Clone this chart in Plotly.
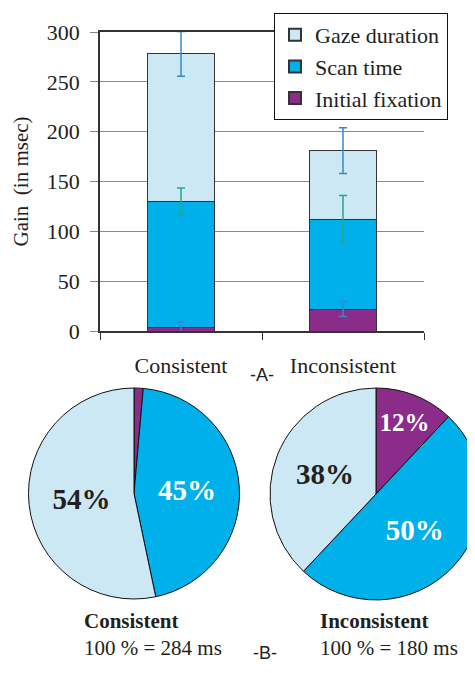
import plotly.graph_objects as go

# stacked bar data (msec)
conditions = ["Consistent", "Inconsistent"]
initial_fix = [4, 22]
scan_time = [126, 90]
gaze_dur = [148, 69]
initial_err = [5, 7.5]
scan_err = [13.5, 24]
gaze_err = [22.5, 23]

# pie data (share of total gain, %)
pie_names = ["Initial fixation", "Scan time", "Gaze duration"]
pie_consistent = [1.4, 45.3, 53.3]
pie_inconsistent = [12, 50, 38]
pie_consistent_text = ["", "45%", "54%"]
pie_inconsistent_text = ["12%", "50%", "38%"]
totals = [284, 180]

C_GAZE = "#cce8f4"
C_SCAN = "#00b0eb"
C_INIT = "#8b2b8a"
ERR_BLUE = "#3b86c8"
ERR_TEAL = "#27a68c"
TXT = "#231f20"
SERIF = "Liberation Serif"
SANS = "Liberation Sans"

W, H = 475, 673
OFF = 8  # page body margin


def px(x):
    return (x - OFF) / W


def py(y):
    return 1 - (y - OFF) / H


fig = go.Figure()

bar_line = dict(color="#333333", width=1)
fig.add_trace(go.Bar(x=conditions, y=initial_fix, name="Initial fixation",
                     marker=dict(color=C_INIT, line=bar_line)))
fig.add_trace(go.Bar(x=conditions, y=scan_time, name="Scan time",
                     marker=dict(color=C_SCAN, line=bar_line)))
fig.add_trace(go.Bar(x=conditions, y=gaze_dur, name="Gaze duration",
                     marker=dict(color=C_GAZE, line=bar_line)))

# error bars drawn on top of the stack, at each segment's top
tops_init = initial_fix
tops_scan = [a + b for a, b in zip(initial_fix, scan_time)]
tops_gaze = [a + b + c for a, b, c in zip(initial_fix, scan_time, gaze_dur)]
for tops, err, col in [(tops_init, initial_err, ERR_BLUE), (tops_scan, scan_err, ERR_TEAL),
                       (tops_gaze, gaze_err, ERR_BLUE)]:
    fig.add_trace(go.Scatter(x=conditions, y=tops, mode="markers", showlegend=False,
                             marker=dict(size=1, opacity=0), hoverinfo="skip",
                             error_y=dict(type="data", array=err, color=col, thickness=1.5, width=4)))

pie_common = dict(textinfo="text", textposition="inside", insidetextorientation="horizontal",
                  sort=False, direction="clockwise", rotation=0, showlegend=False,
                  marker=dict(colors=[C_INIT, C_SCAN, C_GAZE], line=dict(color="#111", width=1)),
                  textfont=dict(family=SERIF, size=29, color=["white", "white", TXT], weight="bold"))
fig.add_trace(go.Pie(labels=pie_names, values=pie_consistent, text=pie_consistent_text,
                     domain=dict(x=[px(28.5), px(239.5)], y=[py(599), py(388)]), **pie_common))
fig.add_trace(go.Pie(labels=pie_names, values=pie_inconsistent, text=pie_inconsistent_text,
                     domain=dict(x=[px(270), px(482)], y=[py(600), py(388)]), **pie_common))

fig.update_layout(
    width=W, height=H,
    margin=dict(l=0, r=0, t=0, b=0, autoexpand=False),
    paper_bgcolor="white", plot_bgcolor="white",
    barmode="stack", bargap=0.59,
    font=dict(family=SERIF, size=22, color=TXT),
    showlegend=True,
    legend=dict(x=px(274), y=py(13), xanchor="left", yanchor="top",
                traceorder="reversed", bgcolor="white", bordercolor="#111", borderwidth=1,
                font=dict(family=SERIF, size=22, color=TXT), itemsizing="constant",
                tracegroupgap=0),
    xaxis=dict(domain=[px(100), px(424)], showline=True, linecolor="#333", linewidth=1.5,
               mirror=True, ticks="outside", tickson="boundaries", ticklen=7, tickcolor="#333",
               showgrid=False, ticklabelstandoff=14, automargin=False,
               tickfont=dict(family=SERIF, size=22, color=TXT)),
    yaxis=dict(domain=[py(331), py(32)], range=[0, 300], tickvals=[0, 50, 100, 150, 200, 250, 300],
               showline=True, linecolor="#333", linewidth=1.5, ticks="outside", ticklen=8,
               tickcolor="#888", showgrid=True, gridcolor="#8c8c8c", gridwidth=1, zeroline=False,
               ticklabelstandoff=6, automargin=False,
               tickfont=dict(family=SERIF, size=22, color=TXT),
               title=dict(text="Gain  (in msec)", font=dict(family=SERIF, size=21, color=TXT), standoff=12)),
)

fig.add_annotation(text="-A-", x=px(262), y=py(375), xref="paper", yref="paper",
                   showarrow=False, font=dict(family=SANS, size=18, color=TXT))
fig.add_annotation(text="-B-", x=px(265), y=py(665), xref="paper", yref="paper",
                   showarrow=False, font=dict(family=SANS, size=18, color=TXT))

for name, total, xl in zip(conditions, totals, [82, 318]):
    fig.add_annotation(text="<b>" + name + "</b><br>100 % = " + str(total) + " ms",
                       x=px(xl), y=py(607), xref="paper", yref="paper",
                       xanchor="left", yanchor="top", align="left", showarrow=False,
                       font=dict(family=SERIF, size=21, color=TXT))

fig.write_html("out.html")
